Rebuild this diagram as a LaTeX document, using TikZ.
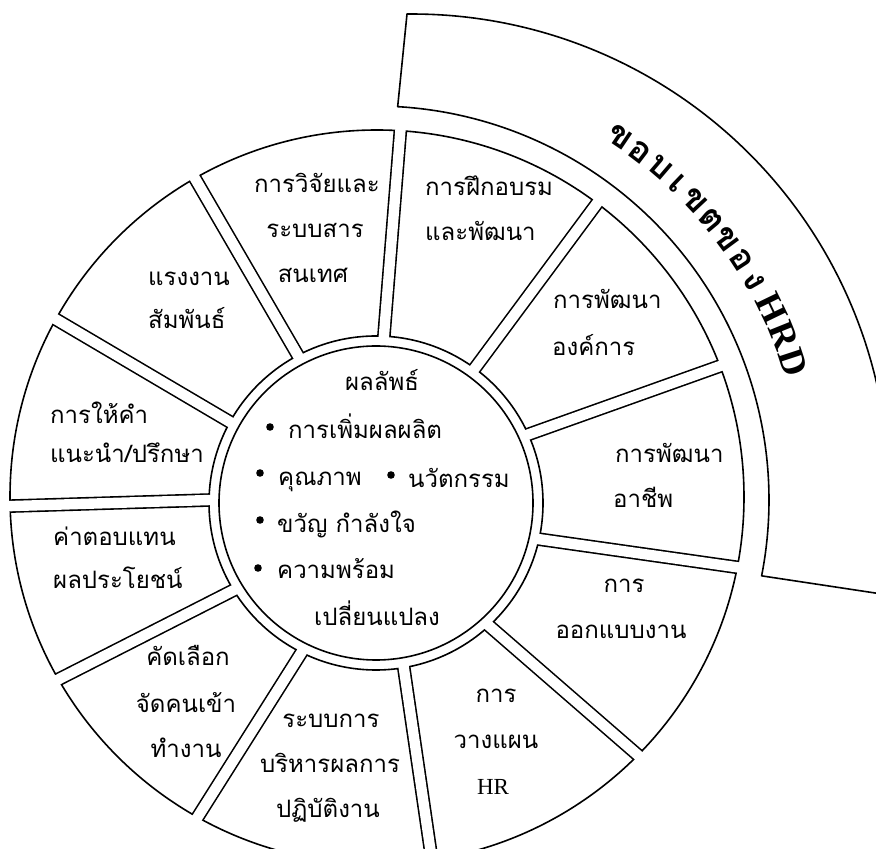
\documentclass[tikz,border=0pt]{standalone}
\usepackage{fontspec}
\newfontfamily\thai[Script=Thai]{Loma}
\newfontfamily\hrserif{Liberation Serif}
\usetikzlibrary{calc}
\tikzset{
  ln/.style={line width=1.6pt},
  lbl/.style={font=\thai\fontsize{24}{28}\selectfont, inner sep=0pt, anchor=base},
  lblw/.style={lbl, anchor=base west},
  bandch/.style={font=\thai\bfseries\fontsize{35}{40}\selectfont, inner sep=0pt, anchor=base},
  bandlat/.style={font=\hrserif\bfseries\fontsize{37}{42}\selectfont, inner sep=0pt, anchor=base},
  dot/.style={fill=black},
}
\begin{document}
\begin{tikzpicture}[x=1pt,y=1pt,line join=round]
\useasboundingbox (0,0) rectangle (876,849);
\coordinate (c1) at (376,346);
\coordinate (c2) at (377,352);
\coordinate (cb) at (375,349);
\coordinate (cbo) at (412,358);
% rings
\draw[ln] (c1) circle[radius=157];
\draw[ln] (c1) circle[radius=167];
\draw[ln] (c2) circle[radius=367];
% gap lines (inner point / outer point)
\coordinate (g1i) at (384,514);  \coordinate (g1o) at (401,726);
\coordinate (g2i) at (478,485);  \coordinate (g2o) at (601,651);
\coordinate (g3i) at (580,433);  \coordinate (g3o) at (723,484);
\coordinate (g4i) at (580,304);  \coordinate (g4o) at (735,282);
\coordinate (g5i) at (495,218);  \coordinate (g5o) at (632,99);
\coordinate (g6i) at (405,173);  \coordinate (g6o) at (430,2);
\coordinate (g7i) at (298,191);  \coordinate (g7o) at (204,42);
\coordinate (g8i) at (232,258);  \coordinate (g8o) at (67,174);
\coordinate (g9i) at (210,349);  \coordinate (g9o) at (14,343);
\coordinate (g10i) at (230,427); \coordinate (g10o) at (57,529);
\coordinate (g11i) at (297,495); \coordinate (g11o) at (193,674);
\begin{scope}[even odd rule]
  \clip (c2) circle[radius=367] (c1) circle[radius=167];
  \foreach \i in {1,...,11}
    \draw[line width=13.6pt] ($(g\i i)!-0.8!(g\i o)$) -- ($(g\i i)!1.4!(g\i o)$);
\end{scope}
\begin{scope}[even odd rule]
  \clip (c2) circle[radius=371] (c1) circle[radius=163];
  \foreach \i in {1,...,11}
    \draw[white, line width=10.4pt] ($(g\i i)!-0.8!(g\i o)$) -- ($(g\i i)!1.4!(g\i o)$);
\end{scope}
% band
\draw[ln] ($(cb)+(86.7:394)$) -- ($(cbo)+(90.6:477)$)
  arc[start angle=90.6, end angle=-12.4, radius=477]
  -- ($(cb)+(-11.1:394)$)
  arc[start angle=-11.1, end angle=86.7, radius=394] -- cycle;
\foreach \c/\a [count=\k] in {ข/56,อ/52.7,บ/49.4,เ/46.3,ข/43.1,ต/39.8,ข/36.5,อ/33.2,ง/30}
  \node[bandch, rotate=\a-90] (b\k) at ($(cb)+(\a:428)$) {\c};
\foreach \c/\a [count=\k] in {H/25.8,R/21.9,D/18.2}
  \node[bandlat, rotate=\a-90] (h\k) at ($(cb)+(\a:428)$) {\c};
% segment labels
\node[lbl] (s1a) at (317,656) {การวิจัยและ};
\node[lbl] (s1b) at (315,611) {ระบบสาร};
\node[lbl] (s1c) at (313,566) {สนเทศ};
\node[lblw] (s2a) at (425,653) {การฝึกอบรม};
\node[lblw] (s2b) at (425,608) {และพัฒนา};
\node[lblw] (s3a) at (553,540) {การพัฒนา};
\node[lblw] (s3b) at (552,493) {องค์การ};
\node[lblw] (s4a) at (615,386) {การพัฒนา};
\node[lblw] (s4b) at (613,341) {อาชีพ};
\node[lbl] (s5a) at (624,256) {การ};
\node[lbl] (s5b) at (621,210) {ออกแบบงาน};
\node[lbl] (s6a) at (496,146) {การ};
\node[lbl] (s6b) at (496,100) {วางแผน};
\node[lbl, font=\hrserif\fontsize{23}{26}\selectfont] (s6c) at (493,54) {HR};
\node[lbl] (s7a) at (331,121) {ระบบการ};
\node[lbl] (s7b) at (330,76) {บริหารผลการ};
\node[lbl] (s7c) at (328,31) {ปฏิบัติงาน};
\node[lbl] (s8a) at (188,183) {คัดเลือก};
\node[lbl] (s8b) at (186,136) {จัดคนเข้า};
\node[lbl] (s8c) at (186,91) {ทำงาน};
\node[lblw] (s9a) at (53,303) {ค่าตอบแทน};
\node[lblw] (s9b) at (53,260) {ผลประโยชน์};
\node[lblw] (s10a) at (50,425) {การให้คำ};
\node[lblw] (s10b) at (50,386) {แนะนำ/ปรึกษา};
\node[lblw] (s11a) at (148,563) {แรงงาน};
\node[lblw] (s11b) at (148,520) {สัมพันธ์};
% centre
\node[lbl] (t0) at (382,458) {ผลลัพธ์};
\node[lblw] (t1) at (288,410) {การเพิ่มผลผลิต};
\node[lblw] (t2) at (278,363) {คุณภาพ};
\node[lblw] (t3) at (408,361) {นวัตกรรม};
\node[lblw] (t4) at (277,316) {ขวัญ กำลังใจ};
\node[lblw] (t5) at (277,270) {ความพร้อม};
\node[lbl] (t6) at (377,223) {เปลี่ยนแปลง};
\fill[dot] (270,422) circle[radius=3.8];
\fill[dot] (260,376) circle[radius=3.8];
\fill[dot] (391,374) circle[radius=3.8];
\fill[dot] (260,329) circle[radius=3.8];
\fill[dot] (258,281) circle[radius=3.8];
\end{tikzpicture}
\end{document}
